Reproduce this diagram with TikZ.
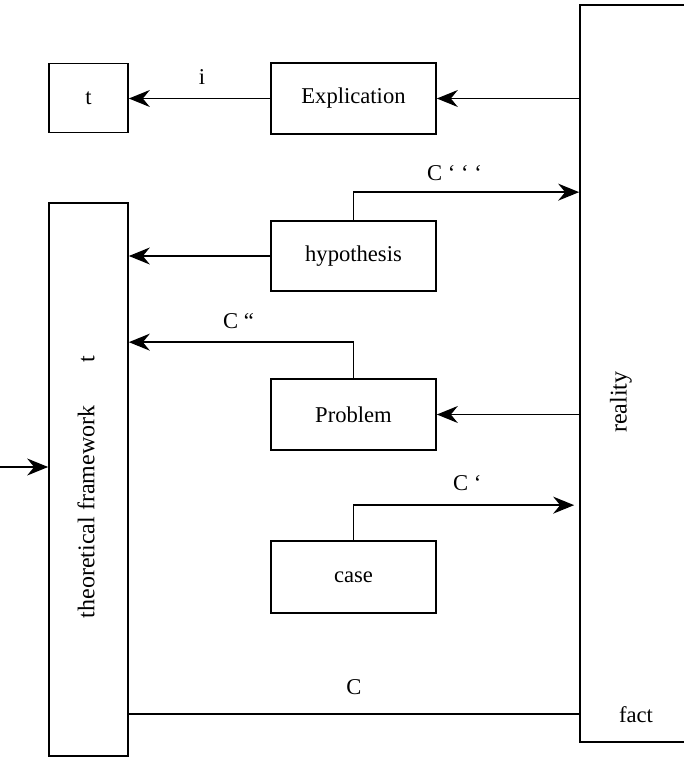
\documentclass[tikz,border=0pt]{standalone}
\usepackage{fontspec}
\setmainfont{Liberation Serif}
\usetikzlibrary{arrows.meta,calc}
\tikzset{
  box/.style={draw, line width=1.7pt, inner sep=0pt, font=\fontsize{22.6}{26}\selectfont},
  call/.style={-{Stealth[length=21pt, width=17pt, inset=7pt]}, line width=1.4pt},
  wire/.style={line width=1.4pt},
  lab/.style={font=\fontsize{22.6}{26}\selectfont, inner sep=0pt},
  rot/.style={inner sep=0pt, font=\fontsize{24}{28}\selectfont, rotate=90},
}

\begin{document}
\begin{tikzpicture}[x=1pt, y=-1pt]
  \clip (0,0) rectangle (684,758);

  %% left column
  \node[box, minimum width=79pt, minimum height=69pt] (tbox) at (88.5,98) {t};
  \node[box, minimum width=79pt, minimum height=553pt] (frame) at (88.5,479.5) {};
  \node[rot] (frametxt) at (86,487) {theoretical framework\hspace{1.8em}t};

  %% middle column
  \node[box, minimum width=165pt, minimum height=71pt] (expl) at (353.5,98.5) {Explication};
  \node[box, minimum width=165pt, minimum height=70pt] (hyp) at (353.5,256) {hypothesis};
  \node[box, minimum width=165pt, minimum height=71pt] (prob) at (353.5,414.5) {Problem};
  \node[box, minimum width=165pt, minimum height=72pt] (case) at (353.5,577) {case};

  %% reality, runs off the right edge
  \node[box, minimum width=120pt, minimum height=737pt] (reality) at (640,373.5) {};
  \node[rot] (realtxt) at (621,402) {reality};
  \node[lab, anchor=base] (fact) at (636,722) {fact};

  %% arrows
  \draw[call] (expl.east -| reality.west) -- (expl.east);
  \draw[call] (expl.west) -- (expl.west -| tbox.east);
  \node[lab, anchor=base] (ilab) at (202,84) {i};

  \coordinate (hyptop) at ($(hyp.north)+(0,-28)$);
  \draw[call] (hyp.north) -- (hyptop) -- (hyptop -| reality.west);
  \node[lab, anchor=base west] (c3lab) at (427,180) {C ‘ ‘ ‘};
  \draw[call] (hyp.west) -- (hyp.west -| frame.east);

  \coordinate (probtop) at ($(prob.north)+(0,-36)$);
  \draw[call] (prob.north) -- (probtop) -- (probtop -| frame.east);
  \node[lab, anchor=base west] (c2lab) at (223,328) {C “};
  \draw[call] (prob.east -| reality.west) -- (prob.east);

  \coordinate (casetop) at ($(case.north)+(0,-35)$);
  \draw[call, shorten >=5pt] (case.north) -- (casetop) -- (casetop -| reality.west);
  \node[lab, anchor=base west] (c1lab) at (453,490) {C ‘};

  %% fact line
  \coordinate (cy) at (0,714);
  \draw[wire] (cy -| frame.east) -- (cy -| reality.west);
  \node[lab, anchor=base] (clab) at (354,694) {C};

  %% input
  \coordinate (in) at (0,467);
  \draw[call] (in) -- (in -| frame.west);
\end{tikzpicture}
\end{document}
